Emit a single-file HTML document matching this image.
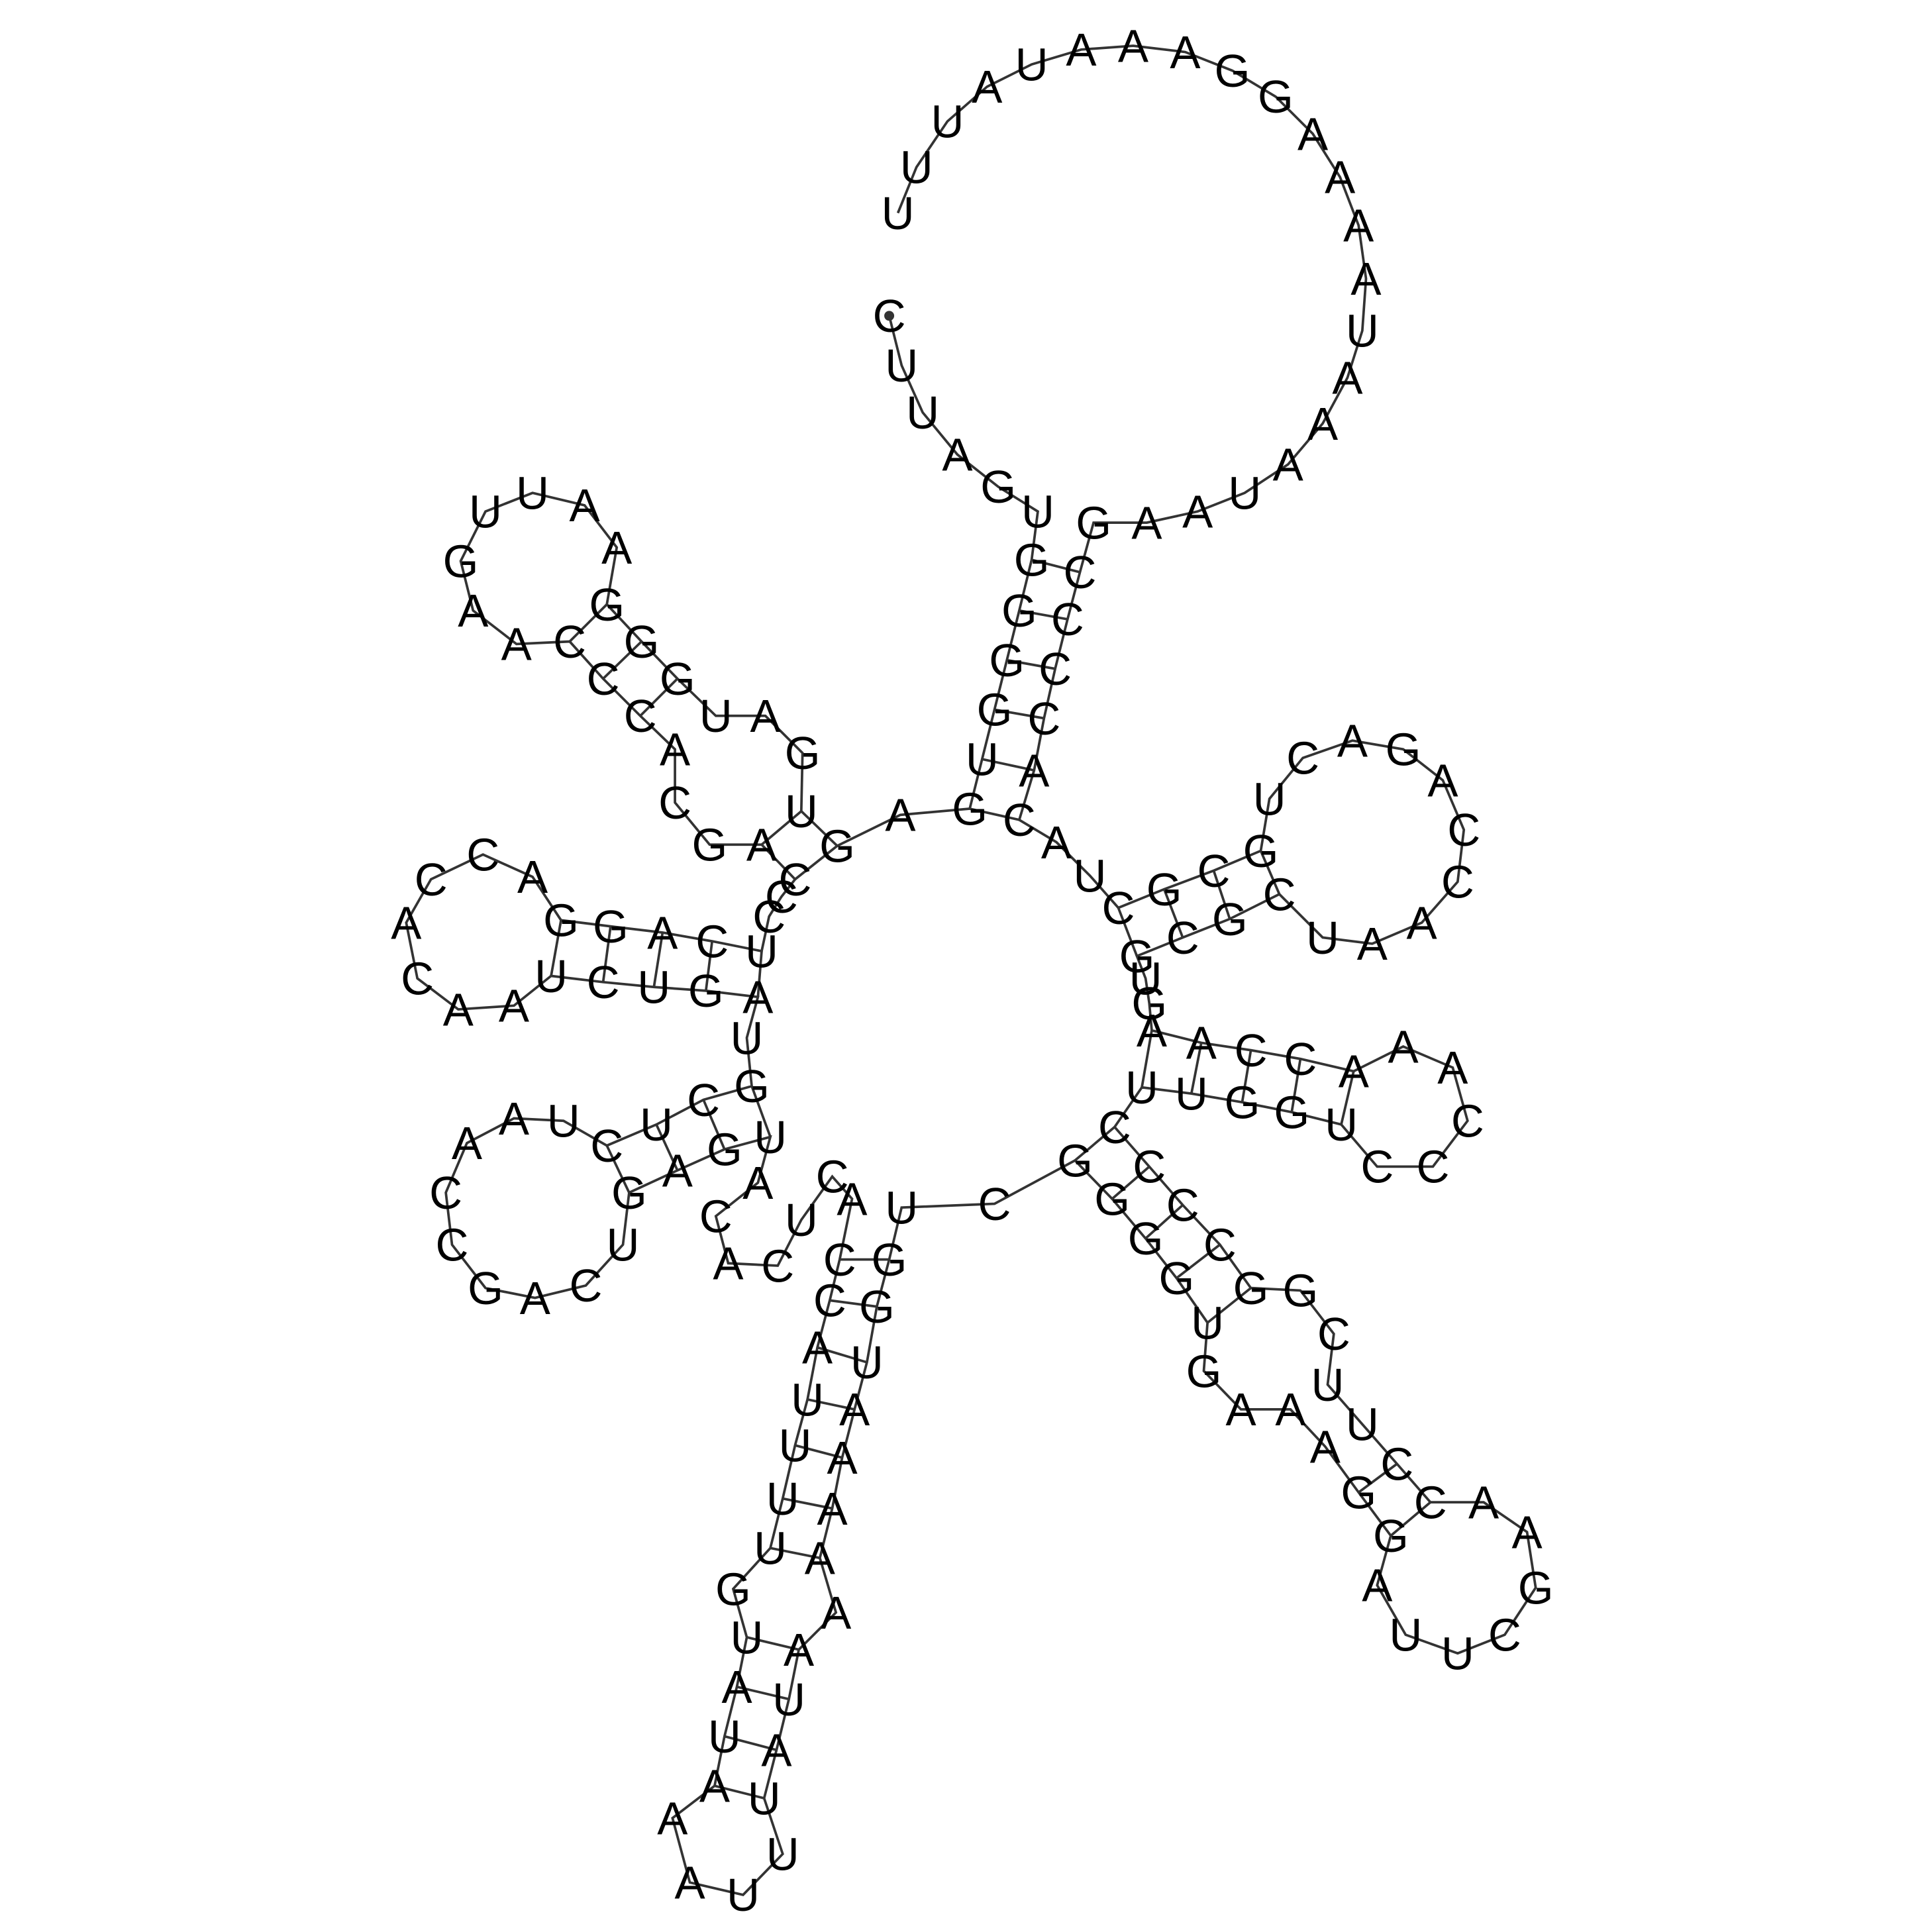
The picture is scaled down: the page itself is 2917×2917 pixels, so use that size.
<!DOCTYPE html>
<html><head><meta charset="utf-8"><style>
html,body{margin:0;padding:0;background:#fff;}
svg{display:block;}
text{font-family:"Liberation Sans",sans-serif;font-size:37px;fill:#000;}
</style></head><body>
<svg id="rna" width="2917" height="2917" viewBox="0 0 1560 1560" xmlns="http://www.w3.org/2000/svg">
<g id="bb"></g>
<g id="bp"></g>
<g id="nt"></g>
</svg>
<script>
const bases = "CUUAGUGGGG"+"UGAGUGAUGG"+"GAAUUGAACC"+"CACGACCCUC"+"AGGACCACAA"+"UCUGAUGCUC"+"UAACCGACUG"+"AGUACACUCA"+"CCAUUUUGUA"+"UAAAUUUAUA"+"AAAAAUGGUC"+"GGGGUGAAAG"+"GAUUCGAACC"+"UUCGGCCCCU"+"UGGUCCCAAA"+"CCAAGUGCGC"+"UAACCAGACU"+"GCGCUACACC"+"CCGAAUAAAU"+"AAAAGGAAAU"+"AUUU";
const xs = [718,728,745,773,806,838,833,823,813,803,793,783,727,676,647,648,618,578,547,518,490,498,472,430,392,372,382,417,460,487,517,545,545,573,615,642,631,621,615,575,535,493,453,430,390,348,328,337,370,415,445,487,528,570,612,603,607,568,530,490,455,415,377,360,365,392,432,473,503,508,547,585,622,612,578,588,628,647,672,688,678,670,660,652,642,632,622,592,603,595,585,577,543,557,600,632,617,627,637,645,675,662,672,680,690,700,708,718,728,803,868,898,925,950,975,972,1002,1042,1070,1097,1123,1112,1135,1177,1215,1240,1233,1198,1155,1128,1100,1072,1077,1050,1010,985,955,928,900,922,962,1003,1043,1083,1112,1157,1185,1173,1133,1093,1050,1010,970,930,928,925,918,955,993,1033,1068,1108,1148,1177,1182,1165,1133,1092,1052,1025,1018,980,940,903,880,853,823,835,843,852,862,872,883,926,967,1005,1040,1068,1088,1100,1103,1097,1082,1060,1030,995,957,915,873,833,797,765,740,725];
const ys = [255,295,333,367,393,413,452,493,533,573,613,653,658,683,655,608,578,578,548,518,488,442,408,398,413,453,493,520,518,548,578,605,648,682,682,710,724,740,768,760,753,748,743,708,690,710,745,790,815,812,788,793,797,800,805,838,877,888,908,925,905,903,923,963,1005,1040,1048,1038,1005,963,945,928,918,955,982,1020,1022,985,950,968,1017,1050,1088,1130,1167,1210,1250,1283,1322,1362,1402,1442,1468,1520,1530,1497,1452,1413,1372,1332,1302,1258,1218,1177,1138,1100,1055,1017,975,972,937,968,1000,1032,1068,1107,1138,1138,1168,1205,1240,1280,1320,1335,1320,1282,1237,1213,1213,1182,1150,1118,1077,1042,1040,1005,973,942,910,878,883,890,898,908,942,942,905,862,845,865,855,848,842,832,810,790,772,757,742,722,757,762,745,712,670,630,605,598,612,645,687,703,718,733,707,680,662,622,580,540,500,462,422,422,413,398,375,342,305,267,225,182,143,108,78,57,42,37,40,52,70,98,135,172];
const pairI = [6,7,8,9,10,11,13,14,18,19,20,38,39,40,41,42,56,57,58,59,80,81,82,83,84,85,86,88,89,90,91,110,111,112,113,114,119,120,139,140,141,142,143,156,157,158,159];
const pairJ = [181,180,179,178,177,176,35,34,30,29,28,54,53,52,51,50,72,71,70,69,107,106,105,104,103,102,101,99,98,97,96,138,137,136,135,134,129,128,153,152,151,150,149,173,172,171,170];
const NS="http://www.w3.org/2000/svg";
const bb=document.getElementById('bb'), bp=document.getElementById('bp'), nt=document.getElementById('nt');
const n=Math.min(bases.length,xs.length,ys.length);
let d="";
for(let i=0;i<n;i++){d+=(i?"L":"M")+xs[i]+" "+ys[i];}
const path=document.createElementNS(NS,'path');
path.setAttribute('d',d);path.setAttribute('fill','none');path.setAttribute('stroke','#333');path.setAttribute('stroke-width','2');


bb.appendChild(path);
for(let k=0;k<pairI.length;k++){
  const a=pairI[k],b=pairJ[k];
  if(a>=n||b>=n) continue;
  const l=document.createElementNS(NS,'line');
  l.setAttribute('x1',xs[a]);l.setAttribute('y1',ys[a]);l.setAttribute('x2',xs[b]);l.setAttribute('y2',ys[b]);
  l.setAttribute('stroke','#333');l.setAttribute('stroke-width','2');
  
  
  bp.appendChild(l);
}
for(let i=0;i<n;i++){
  const t=document.createElementNS(NS,'text');
  t.setAttribute('x',xs[i]);t.setAttribute('y',ys[i]+13);t.setAttribute('text-anchor','middle');
  t.textContent=bases[i];
  
  
  nt.appendChild(t);
}
const dot=document.createElementNS(NS,'circle');
dot.setAttribute('cx',xs[0]);dot.setAttribute('cy',ys[0]);dot.setAttribute('r','4');dot.setAttribute('fill','#333');


nt.appendChild(dot);
</script>
</body></html>
